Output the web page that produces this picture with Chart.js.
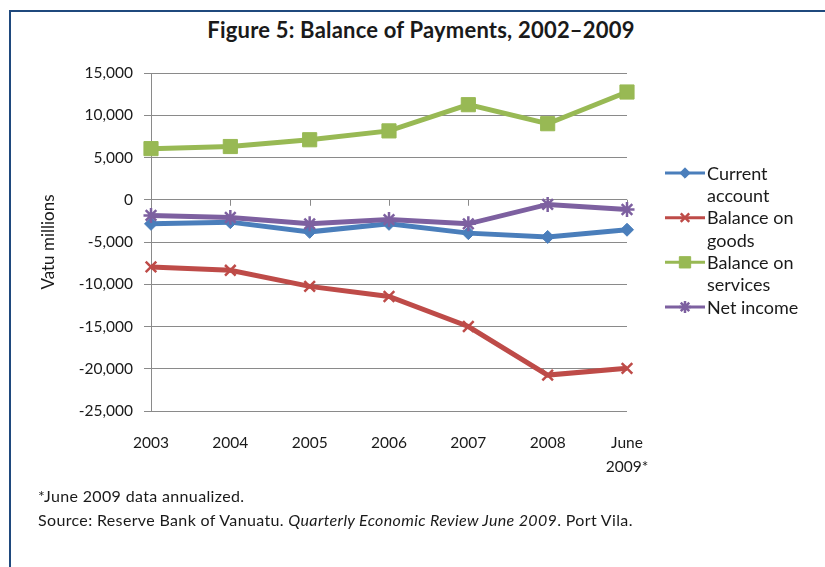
<!DOCTYPE html>
<html>
<head>
<meta charset="utf-8">
<script src="https://cdn.jsdelivr.net/npm/chart.js@4/dist/chart.umd.min.js"></script>
<style>
  html, body { margin: 0; padding: 0; background: #fff; overflow: hidden; }
  body { width: 825px; height: 567px; position: relative; font-family: Lato, "Open Sans", sans-serif; color: #1a1a1a; }
  #frame { position: absolute; left: 9px; top: 10px; width: 900px; height: 700px; border: 2px solid #1f497d; }
  #title { position: absolute; left: 0; top: 16px; width: 842px; text-align: center; font-weight: bold; font-size: 22px; letter-spacing: 0.2px; }
  #chartBox { position: absolute; left: 0; top: 0; width: 825px; height: 567px; }
  .note { position: absolute; left: 38px; font-size: 16px; letter-spacing: 0.35px; white-space: nowrap; }
</style>
</head>
<body>
<div id="frame"></div>
<div id="title">Figure 5: Balance of Payments, 2002–2009</div>
<div id="chartBox"><canvas id="chart" width="825" height="567"></canvas></div>
<div class="note" style="top:486px">*June 2009 data annualized.</div>
<div class="note" style="top:510px">Source: Reserve Bank of Vanuatu. <i>Quarterly Economic Review June 2009</i>. Port Vila.</div>
<script>
const years = ['2003', '2004', '2005', '2006', '2007', '2008', ['June', '2009*']];

const currentAccount = [-2850, -2650, -3800, -2850, -3950, -4400, -3550];
const balanceGoods = [-7950, -8350, -10250, -11450, -15000, -20750, -19950];
const balanceServices = [6050, 6300, 7100, 8150, 11250, 9000, 12750];
const netIncome = [-1850, -2100, -2850, -2350, -2850, -550, -1150];

const seriesNames = ['Current account', 'Balance on goods', 'Balance on services', 'Net income'];
const legendLines = [['Current', 'account'], ['Balance on', 'goods'], ['Balance on', 'services'], ['Net income']];
const seriesColors = ['#4a7ebb', '#be4b48', '#98b954', '#7d60a0'];

const yTicks = { min: -25000, max: 15000, step: 5000 };

const gridColor = '#8a8a8a';
const font = 'Lato';

function series(i, values, style, radius, pointBorder) {
  return {
    label: seriesNames[i],
    data: values,
    borderColor: seriesColors[i],
    backgroundColor: seriesColors[i],
    borderWidth: 5,
    pointStyle: style,
    pointRadius: radius,
    pointHoverRadius: radius,
    pointBorderWidth: pointBorder,
    pointBackgroundColor: seriesColors[i],
    pointBorderColor: seriesColors[i],
    tension: 0,
    order: 3 - i
  };
}

// legend on the right, text wrapped like the original
const sideLegend = {
  id: 'sideLegend',
  afterDraw(chart) {
    const ctx = chart.ctx;
    const lineStep = 22.33;
    let row = 0;
    ctx.save();
    ctx.font = '18px ' + font;
    ctx.textBaseline = 'middle';
    chart.data.datasets.forEach((ds, i) => {
      const y = 173 + row * lineStep;
      ctx.strokeStyle = ds.borderColor;
      ctx.lineWidth = 3;
      ctx.beginPath();
      ctx.moveTo(665, y);
      ctx.lineTo(705, y);
      ctx.stroke();
      ctx.fillStyle = ds.pointBackgroundColor;
      ctx.lineWidth = ds.pointBorderWidth;
      Chart.helpers.drawPoint(ctx, { pointStyle: ds.pointStyle, radius: ds.pointRadius * 0.8, rotation: 0, borderWidth: ds.pointBorderWidth }, 685, y);
      ctx.fillStyle = '#1a1a1a';
      legendLines[i].forEach((txt, k) => {
        ctx.fillText(txt, 707, y + 1 + k * lineStep);
      });
      row += legendLines[i].length;
    });
    ctx.restore();
  }
};

// tick marks under the zero line, as on the horizontal axis
const zeroTicks = {
  id: 'zeroTicks',
  beforeDatasetsDraw(chart) {
    const ctx = chart.ctx;
    const xs = chart.scales.x;
    const y0 = chart.scales.y.getPixelForValue(0);
    ctx.save();
    ctx.strokeStyle = gridColor;
    ctx.lineWidth = 1;
    ctx.beginPath();
    for (let i = 1; i < years.length; i++) {
      const x = Math.round(xs.getPixelForValue(i)) + 0.5;
      ctx.moveTo(x, y0);
      ctx.lineTo(x, y0 + 6);
    }
    ctx.stroke();
    ctx.restore();
  }
};

new Chart(document.getElementById('chart'), {
  type: 'line',
  data: {
    labels: years,
    datasets: [
      series(0, currentAccount, 'rectRot', 6.5, 1),
      series(1, balanceGoods, 'crossRot', 7.5, 2.5),
      series(2, balanceServices, 'rect', 10, 1),
      series(3, netIncome, 'star', 7.5, 2.5)
    ]
  },
  options: {
    responsive: false,
    animation: false,
    layout: { padding: { left: 38, right: 198, top: 73, bottom: 0 } },
    plugins: {
      legend: { display: false },
      tooltip: { enabled: false },
      title: { display: false }
    },
    scales: {
      x: {
        type: 'category',
        offset: false,
        grid: { display: false, drawTicks: false },
        border: { display: false },
        ticks: { padding: 20, maxRotation: 0, autoSkip: false, color: '#1a1a1a', font: { family: font, size: 15.5, lineHeight: 1.55 } },
        afterFit(scale) { scale.height = 156; }
      },
      y: {
        min: yTicks.min,
        max: yTicks.max,
        grid: { color: gridColor, tickLength: 7, drawTicks: true },
        border: { color: gridColor },
        ticks: {
          stepSize: yTicks.step,
          padding: 11,
          color: '#1a1a1a',
          font: { family: font, size: 15.5 },
          callback: v => v.toLocaleString('en-US')
        },
        title: { display: true, text: 'Vatu millions', color: '#1a1a1a', font: { family: font, size: 17 }, padding: { top: 0, bottom: 0 } },
        afterFit(scale) { scale.width = 113; }
      }
    }
  },
  plugins: [sideLegend, zeroTicks]
});
</script>
</body>
</html>
